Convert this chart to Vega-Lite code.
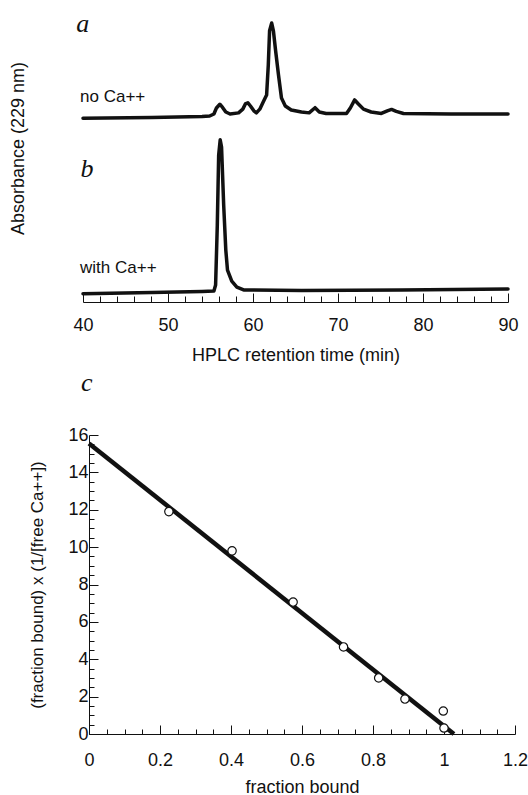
{
  "$schema": "https://vega.github.io/schema/vega-lite/v6.json",
  "padding": {"left": 9, "top": 10, "right": 0, "bottom": 0},
  "spacing": 6,
  "config": {
    "view": {"stroke": null},
    "axis": {
      "grid": false,
      "domainColor": "#111",
      "tickColor": "#111",
      "labelColor": "#111",
      "titleColor": "#111",
      "labelFont": "Liberation Sans",
      "titleFont": "Liberation Sans",
      "labelFontSize": 18,
      "titleFontSize": 18,
      "titleFontWeight": "normal",
      "labelFlush": false,
      "labelOverlap": false,
      "tickCount": 200
    }
  },
  "datasets": {
    "traces": [
      {"trace": "no Ca++", "time": 40.0, "absorbance": 64.0},
      {"trace": "no Ca++", "time": 48.1, "absorbance": 64.3},
      {"trace": "no Ca++", "time": 54.0, "absorbance": 64.6},
      {"trace": "no Ca++", "time": 54.9, "absorbance": 64.8},
      {"trace": "no Ca++", "time": 55.4, "absorbance": 65.5},
      {"trace": "no Ca++", "time": 55.7, "absorbance": 67.6},
      {"trace": "no Ca++", "time": 56.1, "absorbance": 68.9},
      {"trace": "no Ca++", "time": 56.4, "absorbance": 67.9},
      {"trace": "no Ca++", "time": 56.8, "absorbance": 66.2},
      {"trace": "no Ca++", "time": 57.3, "absorbance": 65.5},
      {"trace": "no Ca++", "time": 58.3, "absorbance": 65.9},
      {"trace": "no Ca++", "time": 58.8, "absorbance": 67.2},
      {"trace": "no Ca++", "time": 59.1, "absorbance": 69.0},
      {"trace": "no Ca++", "time": 59.4, "absorbance": 69.4},
      {"trace": "no Ca++", "time": 59.7, "absorbance": 68.3},
      {"trace": "no Ca++", "time": 60.1, "absorbance": 66.6},
      {"trace": "no Ca++", "time": 60.4, "absorbance": 65.9},
      {"trace": "no Ca++", "time": 60.8, "absorbance": 67.2},
      {"trace": "no Ca++", "time": 61.2, "absorbance": 69.7},
      {"trace": "no Ca++", "time": 61.6, "absorbance": 72.1},
      {"trace": "no Ca++", "time": 61.8, "absorbance": 82.6},
      {"trace": "no Ca++", "time": 61.95, "absorbance": 94.5},
      {"trace": "no Ca++", "time": 62.2, "absorbance": 97.2},
      {"trace": "no Ca++", "time": 62.4, "absorbance": 94.5},
      {"trace": "no Ca++", "time": 62.65, "absorbance": 87.8},
      {"trace": "no Ca++", "time": 63.0, "absorbance": 79.1},
      {"trace": "no Ca++", "time": 63.35, "absorbance": 71.1},
      {"trace": "no Ca++", "time": 63.8, "absorbance": 68.3},
      {"trace": "no Ca++", "time": 64.5, "absorbance": 66.9},
      {"trace": "no Ca++", "time": 65.7, "absorbance": 66.2},
      {"trace": "no Ca++", "time": 66.6, "absorbance": 65.9},
      {"trace": "no Ca++", "time": 67.3, "absorbance": 67.7},
      {"trace": "no Ca++", "time": 67.8, "absorbance": 66.2},
      {"trace": "no Ca++", "time": 68.6, "absorbance": 65.7},
      {"trace": "no Ca++", "time": 71.0, "absorbance": 65.7},
      {"trace": "no Ca++", "time": 71.45, "absorbance": 67.6},
      {"trace": "no Ca++", "time": 71.96, "absorbance": 70.4},
      {"trace": "no Ca++", "time": 72.4, "absorbance": 69.0},
      {"trace": "no Ca++", "time": 73.0, "absorbance": 67.2},
      {"trace": "no Ca++", "time": 73.9, "absorbance": 66.2},
      {"trace": "no Ca++", "time": 75.1, "absorbance": 65.7},
      {"trace": "no Ca++", "time": 75.8, "absorbance": 66.6},
      {"trace": "no Ca++", "time": 76.3, "absorbance": 67.1},
      {"trace": "no Ca++", "time": 76.85, "absorbance": 66.4},
      {"trace": "no Ca++", "time": 77.7, "absorbance": 65.7},
      {"trace": "no Ca++", "time": 83.3, "absorbance": 65.5},
      {"trace": "no Ca++", "time": 90.0, "absorbance": 65.5},
      {"trace": "with Ca++", "time": 40.0, "absorbance": 2.9},
      {"trace": "with Ca++", "time": 48.1, "absorbance": 3.3},
      {"trace": "with Ca++", "time": 54.0, "absorbance": 3.7},
      {"trace": "with Ca++", "time": 55.4, "absorbance": 3.8},
      {"trace": "with Ca++", "time": 55.6, "absorbance": 5.9},
      {"trace": "with Ca++", "time": 55.8, "absorbance": 26.8},
      {"trace": "with Ca++", "time": 55.96, "absorbance": 51.2},
      {"trace": "with Ca++", "time": 56.14, "absorbance": 56.5},
      {"trace": "with Ca++", "time": 56.3, "absorbance": 54.0},
      {"trace": "with Ca++", "time": 56.55, "absorbance": 33.8},
      {"trace": "with Ca++", "time": 56.8, "absorbance": 18.1},
      {"trace": "with Ca++", "time": 57.0, "absorbance": 11.1},
      {"trace": "with Ca++", "time": 57.5, "absorbance": 7.3},
      {"trace": "with Ca++", "time": 58.1, "absorbance": 5.2},
      {"trace": "with Ca++", "time": 58.9, "absorbance": 4.2},
      {"trace": "with Ca++", "time": 65.7, "absorbance": 4.0},
      {"trace": "with Ca++", "time": 77.4, "absorbance": 4.2},
      {"trace": "with Ca++", "time": 90.0, "absorbance": 4.5}
    ],
    "panelLettersTop": [
      {"label": "a", "time": 39.2, "absorbance": 94.1},
      {"label": "b", "time": 39.7, "absorbance": 43.6}
    ],
    "traceLabels": [
      {"label": "no Ca++", "time": 39.65, "absorbance": 69.7},
      {"label": "with Ca++", "time": 39.65, "absorbance": 10.1}
    ],
    "points": [
      {"fraction": 0.225, "value": 11.9},
      {"fraction": 0.403, "value": 9.8},
      {"fraction": 0.575, "value": 7.06},
      {"fraction": 0.717, "value": 4.66},
      {"fraction": 0.816, "value": 3.0},
      {"fraction": 0.89, "value": 1.87},
      {"fraction": 0.998, "value": 1.23},
      {"fraction": 1.0, "value": 0.32}
    ],
    "fit": [
      {"fraction": 0.0, "value": 15.55},
      {"fraction": 1.028, "value": 0.0}
    ],
    "panelLetterBottom": [
      {"label": "c", "fraction": -0.0225, "value": 18.35}
    ]
  },
  "vconcat": [
    {
      "width": 426,
      "height": 287,
      "layer": [
        {
          "data": {"name": "traces"},
          "mark": {"type": "line", "color": "#111", "strokeWidth": 3.5, "strokeJoin": "round", "strokeCap": "round"},
          "encoding": {
            "x": {
              "field": "time", "type": "quantitative",
              "scale": {"domain": [40, 90], "range": [-6, 419]},
              "axis": {
                "title": "HPLC retention time (min)",
                "values": [40, 42, 44, 46, 48, 50, 52, 54, 56, 58, 60, 62, 64, 66, 68, 70, 72, 74, 76, 78, 80, 82, 84, 86, 88, 90],
                "tickCount": 200,
                "tickSize": {"condition": {"test": "datum.value % 10 === 0", "value": -9}, "value": -6},
                "labelExpr": "datum.value % 10 === 0 ? format(datum.value, '~g') : ''",
                "labelOverlap": false,
                "labelPadding": 23,
                "titlePadding": 9
              }
            },
            "y": {
              "field": "absorbance", "type": "quantitative",
              "scale": {"domain": [0, 100]},
              "axis": {
                "title": "Absorbance (229 nm)",
                "domain": false, "ticks": false, "labels": false,
                "titlePadding": 62,
                "titleY": 133
              }
            },
            "detail": {"field": "trace", "type": "nominal"}
          }
        },
        {
          "data": {"name": "panelLettersTop"},
          "mark": {"type": "text", "align": "left", "baseline": "alphabetic", "font": "Liberation Serif", "fontStyle": "italic", "fontSize": 26, "color": "#111"},
          "encoding": {
            "x": {"field": "time", "type": "quantitative"},
            "y": {"field": "absorbance", "type": "quantitative"},
            "text": {"field": "label", "type": "nominal"}
          }
        },
        {
          "data": {"name": "traceLabels"},
          "mark": {"type": "text", "align": "left", "baseline": "alphabetic", "font": "Liberation Sans", "fontSize": 17, "color": "#111"},
          "encoding": {
            "x": {"field": "time", "type": "quantitative"},
            "y": {"field": "absorbance", "type": "quantitative"},
            "text": {"field": "label", "type": "nominal"}
          }
        }
      ]
    },
    {
      "width": 426,
      "height": 299,
      "layer": [
        {
          "data": {"name": "fit"},
          "mark": {"type": "line", "color": "#111", "strokeWidth": 4.5},
          "encoding": {
            "x": {
              "field": "fraction", "type": "quantitative",
              "scale": {"domain": [0, 1.2]},
              "axis": {
                "title": "fraction bound",
                "values": [0, 0.05, 0.1, 0.15, 0.2, 0.25, 0.3, 0.35, 0.4, 0.45, 0.5, 0.55, 0.6, 0.65, 0.7, 0.75, 0.8, 0.85, 0.9, 0.95, 1, 1.05, 1.1, 1.15, 1.2],
                "tickCount": 200,
                "tickSize": {"condition": {"test": "round(datum.value * 100) % 20 === 0", "value": -9}, "value": -5},
                "labelExpr": "round(datum.value * 100) % 20 === 0 ? format(datum.value, '~g') : ''",
                "labelOverlap": false,
                "labelPadding": 26,
                "titlePadding": 5
              }
            },
            "y": {
              "field": "value", "type": "quantitative",
              "scale": {"domain": [0, 16]},
              "axis": {
                "title": "(fraction bound) x (1/[free Ca++])",
                "titleFontSize": 17,
                "values": [0, 0.5, 1, 1.5, 2, 2.5, 3, 3.5, 4, 4.5, 5, 5.5, 6, 6.5, 7, 7.5, 8, 8.5, 9, 9.5, 10, 10.5, 11, 11.5, 12, 12.5, 13, 13.5, 14, 14.5, 15, 15.5, 16],
                "tickCount": 200,
                "tickSize": {"condition": {"test": "datum.value % 2 === 0", "value": -9}, "value": -5},
                "labelExpr": "datum.value % 2 === 0 ? format(datum.value, '~g') : ''",
                "labelOverlap": false,
                "labelPadding": 10,
                "titlePadding": 21
              }
            }
          }
        },
        {
          "data": {"name": "points"},
          "mark": {"type": "circle", "fill": "white", "stroke": "#111", "strokeWidth": 1.2, "size": 70, "opacity": 1, "fillOpacity": 1},
          "encoding": {
            "x": {"field": "fraction", "type": "quantitative"},
            "y": {"field": "value", "type": "quantitative"}
          }
        },
        {
          "data": {"name": "panelLetterBottom"},
          "mark": {"type": "text", "align": "left", "baseline": "alphabetic", "font": "Liberation Serif", "fontStyle": "italic", "fontSize": 26, "color": "#111"},
          "encoding": {
            "x": {"field": "fraction", "type": "quantitative"},
            "y": {"field": "value", "type": "quantitative"},
            "text": {"field": "label", "type": "nominal"}
          }
        }
      ]
    }
  ]
}
